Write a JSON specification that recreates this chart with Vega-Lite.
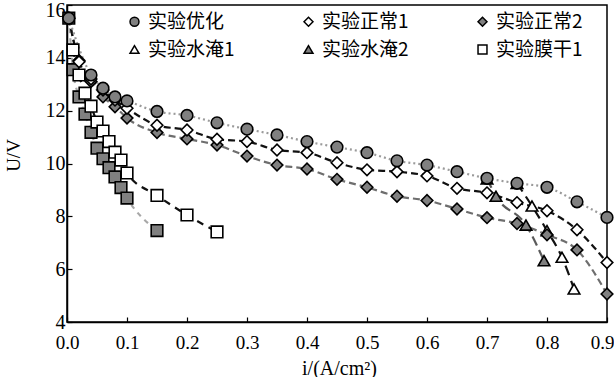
{
  "$schema": "https://vega.github.io/schema/vega-lite/v6.json",
  "width": 540,
  "height": 317,
  "autosize": {"type": "none"},
  "padding": {"left": 67, "top": 5, "right": 7, "bottom": 55},
  "background": "white",
  "config": {
    "view": {"stroke": "black", "strokeWidth": 1.5},
    "font": "Liberation Serif"
  },
  "data": {
    "values": [
      {"s": "实验水淹1", "i": 0.75, "U": 9.25},
      {"s": "实验水淹1", "i": 0.775, "U": 8.39},
      {"s": "实验水淹1", "i": 0.8, "U": 7.46},
      {"s": "实验水淹1", "i": 0.825, "U": 6.45},
      {"s": "实验水淹1", "i": 0.845, "U": 5.25},
      {"s": "实验水淹2", "i": 0.7, "U": 9.42},
      {"s": "实验水淹2", "i": 0.715, "U": 8.76},
      {"s": "实验水淹2", "i": 0.765, "U": 7.67},
      {"s": "实验水淹2", "i": 0.795, "U": 6.32},
      {"s": "实验膜干2", "i": 0.003, "U": 15.5},
      {"s": "实验膜干2", "i": 0.01, "U": 13.55},
      {"s": "实验膜干2", "i": 0.02, "U": 12.52},
      {"s": "实验膜干2", "i": 0.03, "U": 11.87},
      {"s": "实验膜干2", "i": 0.04, "U": 11.18},
      {"s": "实验膜干2", "i": 0.05, "U": 10.58},
      {"s": "实验膜干2", "i": 0.06, "U": 10.18},
      {"s": "实验膜干2", "i": 0.07, "U": 9.84},
      {"s": "实验膜干2", "i": 0.08, "U": 9.49},
      {"s": "实验膜干2", "i": 0.09, "U": 9.09},
      {"s": "实验膜干2", "i": 0.1, "U": 8.69},
      {"s": "实验膜干2", "i": 0.15, "U": 7.46},
      {"s": "实验膜干1", "i": 0.01, "U": 14.3},
      {"s": "实验膜干1", "i": 0.02, "U": 13.35},
      {"s": "实验膜干1", "i": 0.03, "U": 12.66},
      {"s": "实验膜干1", "i": 0.04, "U": 12.17},
      {"s": "实验膜干1", "i": 0.05, "U": 11.57},
      {"s": "实验膜干1", "i": 0.06, "U": 11.23},
      {"s": "实验膜干1", "i": 0.07, "U": 10.83},
      {"s": "实验膜干1", "i": 0.08, "U": 10.43},
      {"s": "实验膜干1", "i": 0.09, "U": 10.13},
      {"s": "实验膜干1", "i": 0.1, "U": 9.64},
      {"s": "实验膜干1", "i": 0.15, "U": 8.79},
      {"s": "实验膜干1", "i": 0.2, "U": 8.05},
      {"s": "实验膜干1", "i": 0.25, "U": 7.41},
      {"s": "实验正常2", "i": 0.003, "U": 15.5},
      {"s": "实验正常2", "i": 0.02, "U": 13.9},
      {"s": "实验正常2", "i": 0.04, "U": 13.1},
      {"s": "实验正常2", "i": 0.06, "U": 12.52},
      {"s": "实验正常2", "i": 0.08, "U": 12.15},
      {"s": "实验正常2", "i": 0.1, "U": 11.72},
      {"s": "实验正常2", "i": 0.15, "U": 11.17},
      {"s": "实验正常2", "i": 0.2, "U": 10.93},
      {"s": "实验正常2", "i": 0.25, "U": 10.7},
      {"s": "实验正常2", "i": 0.3, "U": 10.28},
      {"s": "实验正常2", "i": 0.35, "U": 9.94},
      {"s": "实验正常2", "i": 0.4, "U": 9.79},
      {"s": "实验正常2", "i": 0.45, "U": 9.4},
      {"s": "实验正常2", "i": 0.5, "U": 9.1},
      {"s": "实验正常2", "i": 0.55, "U": 8.76},
      {"s": "实验正常2", "i": 0.6, "U": 8.6},
      {"s": "实验正常2", "i": 0.65, "U": 8.28},
      {"s": "实验正常2", "i": 0.7, "U": 7.95},
      {"s": "实验正常2", "i": 0.75, "U": 7.73},
      {"s": "实验正常2", "i": 0.8, "U": 7.3},
      {"s": "实验正常2", "i": 0.85, "U": 6.73},
      {"s": "实验正常2", "i": 0.9, "U": 5.06},
      {"s": "实验正常1", "i": 0.003, "U": 15.5},
      {"s": "实验正常1", "i": 0.02, "U": 13.85},
      {"s": "实验正常1", "i": 0.04, "U": 13.2},
      {"s": "实验正常1", "i": 0.06, "U": 12.78},
      {"s": "实验正常1", "i": 0.08, "U": 12.4},
      {"s": "实验正常1", "i": 0.1, "U": 12.09},
      {"s": "实验正常1", "i": 0.15, "U": 11.45},
      {"s": "实验正常1", "i": 0.2, "U": 11.27},
      {"s": "实验正常1", "i": 0.25, "U": 10.92},
      {"s": "实验正常1", "i": 0.3, "U": 10.83},
      {"s": "实验正常1", "i": 0.35, "U": 10.51},
      {"s": "实验正常1", "i": 0.4, "U": 10.41},
      {"s": "实验正常1", "i": 0.45, "U": 10.03},
      {"s": "实验正常1", "i": 0.5, "U": 9.76},
      {"s": "实验正常1", "i": 0.55, "U": 9.69},
      {"s": "实验正常1", "i": 0.6, "U": 9.53},
      {"s": "实验正常1", "i": 0.65, "U": 9.06},
      {"s": "实验正常1", "i": 0.7, "U": 8.89},
      {"s": "实验正常1", "i": 0.75, "U": 8.52},
      {"s": "实验正常1", "i": 0.8, "U": 8.21},
      {"s": "实验正常1", "i": 0.85, "U": 7.49},
      {"s": "实验正常1", "i": 0.9, "U": 6.25},
      {"s": "实验优化", "i": 0.003, "U": 15.5},
      {"s": "实验优化", "i": 0.04, "U": 13.35},
      {"s": "实验优化", "i": 0.06, "U": 12.85},
      {"s": "实验优化", "i": 0.08, "U": 12.52},
      {"s": "实验优化", "i": 0.1, "U": 12.37},
      {"s": "实验优化", "i": 0.15, "U": 11.97},
      {"s": "实验优化", "i": 0.2, "U": 11.82},
      {"s": "实验优化", "i": 0.25, "U": 11.54},
      {"s": "实验优化", "i": 0.3, "U": 11.3},
      {"s": "实验优化", "i": 0.35, "U": 11.08},
      {"s": "实验优化", "i": 0.4, "U": 10.83},
      {"s": "实验优化", "i": 0.45, "U": 10.62},
      {"s": "实验优化", "i": 0.5, "U": 10.41},
      {"s": "实验优化", "i": 0.55, "U": 10.1},
      {"s": "实验优化", "i": 0.6, "U": 9.94},
      {"s": "实验优化", "i": 0.65, "U": 9.69},
      {"s": "实验优化", "i": 0.7, "U": 9.44},
      {"s": "实验优化", "i": 0.75, "U": 9.25},
      {"s": "实验优化", "i": 0.8, "U": 9.1},
      {"s": "实验优化", "i": 0.85, "U": 8.55},
      {"s": "实验优化", "i": 0.9, "U": 7.96}
    ]
  },
  "encoding": {
    "x": {
      "field": "i", "type": "quantitative",
      "scale": {"domain": [0, 0.9], "nice": false, "zero": false},
      "axis": {
        "title": "i/(A/cm²)", "values": [0, 0.1, 0.2, 0.3, 0.4, 0.5, 0.6, 0.7, 0.8, 0.9],
        "grid": false, "domainColor": "black", "domainWidth": 1.5,
        "tickColor": "black", "tickSize": -5, "tickWidth": 1.2,
        "labelFont": "Liberation Serif", "labelFontSize": 19, "labelColor": "black",
        "labelPadding": 16, "labelFlush": false,
        "labelOffset": {"condition": {"test": "datum.value >= 0.85", "value": -5}, "value": 0},
        "titleFont": "Liberation Serif", "titleFontSize": 20, "titleFontWeight": "normal", "titleColor": "black",
        "titleX": 272, "titleY": 46, "titleBaseline": "middle", "titleAlign": "center"
      }
    },
    "y": {
      "field": "U", "type": "quantitative",
      "scale": {"domain": [4, 16], "nice": false, "zero": false},
      "axis": {
        "title": "U/V", "values": [4, 6, 8, 10, 12, 14, 16],
        "grid": false, "domainColor": "black", "domainWidth": 1.5,
        "tickColor": "black", "tickSize": -5, "tickWidth": 1.2,
        "labelFont": "Liberation Serif", "labelFontSize": 20, "labelColor": "black",
        "labelPadding": 7, "labelFlush": false,
        "labelOffset": {"condition": {"test": "datum.value >= 15", "value": 5}, "value": 0},
        "titleFont": "Liberation Serif", "titleFontSize": 19, "titleFontWeight": "normal", "titleColor": "black",
        "titleAngle": -90, "titleX": -54, "titleY": 150, "titleBaseline": "middle", "titleAlign": "center"
      }
    }
  },
  "layer": [
    {
      "mark": {"type": "line", "interpolate": "monotone", "strokeWidth": 2.2},
      "encoding": {
        "detail": {"field": "s"},
        "stroke": {
          "field": "s", "type": "nominal", "legend": null,
          "scale": {
            "domain": ["实验膜干2", "实验膜干1", "实验水淹2", "实验水淹1", "实验正常2", "实验正常1", "实验优化"],
            "range": ["#a8a8a8", "#111111", "#5a5a5a", "#111111", "#6e6e6e", "#111111", "#9a9a9a"]
          }
        },
        "strokeDash": {
          "field": "s", "type": "nominal", "legend": null,
          "scale": {
            "domain": ["实验膜干2", "实验膜干1", "实验水淹2", "实验水淹1", "实验正常2", "实验正常1", "实验优化"],
            "range": [[5, 5], [7, 6], [10, 5], [10, 6], [7, 4], [7, 4], [2, 3]]
          }
        }
      }
    },
    {
      "mark": {"type": "point", "filled": true, "stroke": "black", "strokeWidth": 1.6, "size": 135, "opacity": 1},
      "encoding": {
        "shape": {
          "field": "s", "type": "nominal",
          "scale": {
            "domain": ["实验优化", "实验正常1", "实验正常2", "实验水淹1", "实验水淹2", "实验膜干1", "实验膜干2"],
            "range": ["circle", "diamond", "diamond", "triangle-up", "triangle-up", "square", "square"]
          },
          "legend": {
            "title": null, "orient": "none", "direction": "horizontal", "legendX": 58, "legendY": 7, "columns": 3,
            "columnPadding": 64, "rowPadding": 8,
            "values": ["实验优化", "实验正常1", "实验正常2", "实验水淹1", "实验水淹2", "实验膜干1"],
            "symbolSize": 80, "symbolStrokeWidth": 1.5, "symbolStrokeColor": "black", "symbolOpacity": 1,
            "labelFont": "Noto Sans CJK SC", "labelFontSize": 19, "labelColor": "black", "labelOffset": 4,
            "encode": {"symbols": {"update": {"stroke": {"value": "black"}, "strokeWidth": {"value": 1.5}, "opacity": {"value": 1}}}}
          }
        },
        "fill": {
          "field": "s", "type": "nominal",
          "scale": {
            "domain": ["实验优化", "实验正常1", "实验正常2", "实验水淹1", "实验水淹2", "实验膜干1", "实验膜干2"],
            "range": ["#808080", "#ffffff", "#808080", "#ffffff", "#808080", "#ffffff", "#808080"]
          },
          "legend": {
            "title": null, "orient": "none", "direction": "horizontal", "legendX": 58, "legendY": 7, "columns": 3,
            "columnPadding": 64, "rowPadding": 8,
            "values": ["实验优化", "实验正常1", "实验正常2", "实验水淹1", "实验水淹2", "实验膜干1"],
            "symbolSize": 80, "symbolStrokeWidth": 1.5, "symbolStrokeColor": "black", "symbolOpacity": 1,
            "labelFont": "Noto Sans CJK SC", "labelFontSize": 19, "labelColor": "black", "labelOffset": 4,
            "encode": {"symbols": {"update": {"stroke": {"value": "black"}, "strokeWidth": {"value": 1.5}, "opacity": {"value": 1}}}}
          }
        }
      }
    }
  ]
}
